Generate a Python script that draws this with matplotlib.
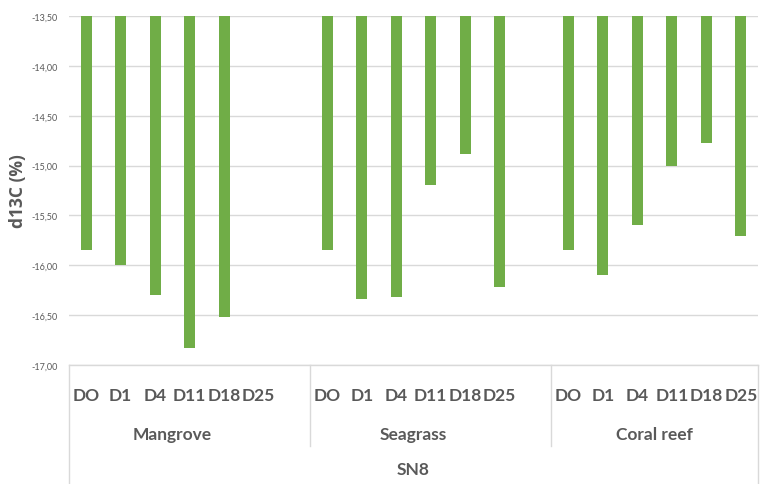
import matplotlib
matplotlib.use("Agg")
import matplotlib.pyplot as plt
import numpy as np

groups = ["Mangrove", "Seagrass", "Coral reef"]
days = ["DO", "D1", "D4", "D11", "D18", "D25"]
mangrove = [-15.85, -16.00, -16.30, -16.83, -16.52, np.nan]
seagrass = [-15.85, -16.34, -16.32, -15.19, -14.88, -16.22]
coral_reef = [-15.85, -16.10, -15.60, -15.00, -14.77, -15.71]
outer_label = "SN8"
y_label = "d13C (%)"
y_ticks = [-13.5, -14.0, -14.5, -15.0, -15.5, -16.0, -16.5, -17.0]

series = [mangrove, seagrass, coral_reef]
base = -13.5
green = "#70AD47"
text_col = "#595959"
grid_col = "#D9D9D9"

plt.rcParams['font.family'] = ['Lato', 'DejaVu Sans']

fig = plt.figure(figsize=(7.69, 4.85), dpi=100)
ax = fig.add_axes([69/769, 1-366/485, (758-69)/769, (366-17)/485])

positions = []
labels = []
for g, vals in enumerate(series):
    for i, v in enumerate(vals):
        x = g * 7 + i
        positions.append(x)
        labels.append(days[i])
        if not np.isnan(v):
            ax.bar(x, v - base, bottom=base, width=0.32, color=green, zorder=3)

ax.set_xlim(-0.5, 19.5)
ax.set_ylim(-17.0, -13.5)
ax.set_yticks(y_ticks)
ax.set_yticklabels([f"{t:.2f}".replace(".", ",") for t in y_ticks],
                   fontsize=6.5, color=text_col)
ax.tick_params(axis='y', length=0, pad=8)
ax.grid(axis='y', color=grid_col, linewidth=1, zorder=0)
for s in ['left', 'right', 'top']:
    ax.spines[s].set_visible(False)
ax.spines['bottom'].set_color(grid_col)
ax.spines['bottom'].set_linewidth(1)

ax.set_xticks(positions)
ax.set_xticklabels(labels, fontsize=12.5, fontweight='bold', color=text_col)
ax.tick_params(axis='x', length=0, pad=16)

ax.set_ylabel(y_label, fontsize=12.5, fontweight='bold', color=text_col,
              family=['Open Sans', 'DejaVu Sans'])
ax.yaxis.set_label_coords((27 - 69) / 689, 0.5)

tr = ax.get_xaxis_transform()
h = 349.0
y_sep = (366 - 447) / h
y_bot = (366 - 485) / h
line_kw = dict(color=grid_col, linewidth=1, clip_on=False, transform=tr)
ax.plot([-0.5, -0.5], [0, y_bot], **line_kw)
ax.plot([19.5, 19.5], [0, y_bot], **line_kw)
for b in [6.5, 13.5]:
    ax.plot([b, b], [0, y_sep], **line_kw)

for g, name in enumerate(groups):
    ax.text(g * 7 + 2.5, (366 - 435) / h, name, transform=tr, ha='center', va='center',
            fontsize=12.5, fontweight='bold', color=text_col)
ax.text(9.5, (366 - 470) / h, outer_label, transform=tr, ha='center', va='center',
        fontsize=12.5, fontweight='bold', color=text_col)

fig.savefig("out.png", dpi=100)
